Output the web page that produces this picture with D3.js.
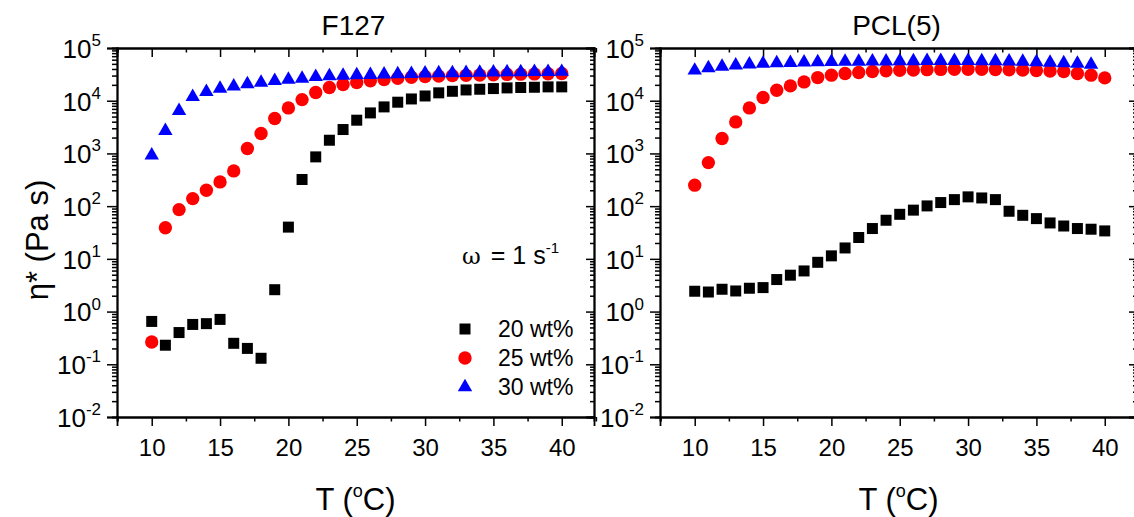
<!DOCTYPE html>
<html>
<head>
<meta charset="utf-8">
<script src="https://cdn.jsdelivr.net/npm/d3@7"></script>
<style>
  body { margin: 0; background: #fff; }
  svg text { font-family: "Liberation Sans", Arial, sans-serif; fill: #000; }
</style>
</head>
<body>
<div id="chart"></div>
<script>
// temperatures (°C)
const temps = d3.range(10, 41)
const tempsPcl30 = d3.range(10, 40)

// F127 complex viscosity (Pa s)
const f127_20 = [0.65, 0.23, 0.40, 0.57, 0.59, 0.71, 0.25, 0.20, 0.13, 2.6, 40, 320, 860, 1780, 2840, 4270, 5870, 7630, 9370, 10800, 12300, 14100, 15100, 16000, 16500, 17000, 17500, 17800, 18000, 18300, 18300]
const f127_25 = [0.265, 39, 86, 139, 200, 288, 466, 1240, 2390, 4600, 7300, 10500, 14300, 17800, 20300, 22100, 23800, 25200, 26700, 27900, 28700, 29300, 29900, 30300, 30700, 31100, 31500, 31900, 32200, 32500, 32800]
const f127_30 = [920, 2670, 6400, 11800, 14700, 17000, 18800, 20600, 22100, 23800, 25200, 26400, 28300, 29200, 30100, 30500, 31000, 31600, 32000, 32400, 33000, 33300, 33600, 33900, 34200, 34500, 34800, 35000, 35200, 35400, 35500]

// PCL(5) complex viscosity (Pa s)
const pcl_20 = [2.43, 2.35, 2.65, 2.46, 2.77, 2.85, 4.05, 4.9, 5.9, 8.6, 11.4, 16.1, 25.4, 37.6, 54, 70, 84, 101, 117, 133, 150, 143, 133, 80, 67, 58, 48, 42, 37.6, 36.5, 33.9]
const pcl_25 = [250, 670, 1920, 3960, 7300, 11500, 15800, 19100, 22700, 27500, 30500, 32800, 34300, 35800, 37000, 37800, 38300, 38800, 39200, 39500, 39600, 39400, 39000, 38500, 38000, 37300, 36500, 35800, 32800, 30500, 27100]
const pcl_30 = [37500, 41500, 44500, 47000, 49000, 50500, 51500, 52500, 53500, 54000, 54500, 55000, 55500, 56000, 56000, 56500, 56500, 57000, 57000, 57000, 57000, 56500, 56500, 56000, 55000, 54000, 53000, 52000, 50500, 48500]

const xTicks = [10, 15, 20, 25, 30, 35, 40]
const xMinorTicks = [7.5, 12.5, 17.5, 22.5, 27.5, 32.5, 37.5, 42.5]
const yExponents = [-2, -1, 0, 1, 2, 3, 4, 5]

const seriesNames = ["20 wt%", "25 wt%", "30 wt%"]
const seriesColors = ["#000000", "#ff0000", "#0000ff"]
const seriesShapes = [d3.symbolSquare, d3.symbolCircle, d3.symbolTriangle]
const seriesSizes = [121, 140, 90]

const panels = [
    { title: "F127", left: 117, data: [[temps, f127_20], [temps, f127_25], [temps, f127_30]] },
    { title: "PCL(5)", left: 660, data: [[temps, pcl_20], [temps, pcl_25], [tempsPcl30, pcl_30]] }
]

let width = 477
let plotTop = 48
let plotBottom = 417

const svg = d3.select("#chart")
    .append("svg")
    .attr("width", 1134)
    .attr("height", 517)

const y = d3.scaleLog()
    .domain([1e-2, 1e5])
    .range([plotBottom, plotTop])

// minor ticks 2..9 per decade
const yMinor = []
yExponents.slice(0, -1).forEach(e => {
    for (let k = 2; k <= 9; k++) yMinor.push(k * Math.pow(10, e))
})
const yMajor = yExponents.map(e => Math.pow(10, e))

const styleAxis = (g) => {
    g.select(".domain").attr("stroke", "#000").attr("stroke-width", 1.8)
    g.selectAll(".tick line").attr("stroke", "#000").attr("stroke-width", 1.5)
}

const addPowerLabels = (g, anchor) => {
    g.selectAll(".tick text").each(function (d) {
        const t = d3.select(this)
        t.text(null)
            .attr("font-size", 26)
            .attr("text-anchor", anchor)
            .attr("dy", "0.36em")
        t.append("tspan").text("10")
        t.append("tspan")
            .attr("font-size", 17)
            .attr("dy", "-0.7em")
            .text(Math.round(Math.log10(d)))
    })
}

panels.forEach((p) => {
    const x = d3.scaleLinear()
        .domain([7.46, 42.36])
        .range([p.left, p.left + width])

    const g = svg.append("g")

    // Bottom axis (outward ticks)
    g.append("g")
        .attr("transform", "translate(0," + plotBottom + ")")
        .call(d3.axisBottom(x).tickValues(xMinorTicks).tickSize(4.5).tickFormat(""))
        .call(styleAxis)
    g.append("g")
        .attr("transform", "translate(0," + plotBottom + ")")
        .call(d3.axisBottom(x).tickValues(xTicks).tickSize(9).tickPadding(13))
        .call(styleAxis)
        .selectAll(".tick text")
        .attr("font-size", 24)

    // Top axis (ticks pointing into the plot)
    g.append("g")
        .attr("transform", "translate(0," + plotTop + ")")
        .call(d3.axisTop(x).tickValues(xMinorTicks).tickSize(-4.5).tickFormat(""))
        .call(styleAxis)
    g.append("g")
        .attr("transform", "translate(0," + plotTop + ")")
        .call(d3.axisTop(x).tickValues(xTicks).tickSize(-9).tickFormat(""))
        .call(styleAxis)

    // Left axis (outward ticks)
    g.append("g")
        .attr("transform", "translate(" + p.left + ",0)")
        .call(d3.axisLeft(y).tickValues(yMinor).tickSize(5).tickFormat(""))
        .call(styleAxis)
    g.append("g")
        .attr("transform", "translate(" + p.left + ",0)")
        .call(d3.axisLeft(y).tickValues(yMajor).tickSize(10).tickPadding(6))
        .call(styleAxis)
        .call(a => addPowerLabels(a, "end"))

    // Right axis (inward ticks)
    g.append("g")
        .attr("transform", "translate(" + (p.left + width) + ",0)")
        .call(d3.axisRight(y).tickValues(yMinor).tickSize(-4).tickFormat(""))
        .call(styleAxis)
    g.append("g")
        .attr("transform", "translate(" + (p.left + width) + ",0)")
        .call(d3.axisRight(y).tickValues(yMajor).tickSize(-8).tickFormat(""))
        .call(styleAxis)

    // Add points
    p.data.forEach((s, i) => {
        g.append("g")
            .selectAll("path")
            .data(s[0].map((t, j) => ({ t: t, v: s[1][j] })))
            .enter()
            .append("path")
            .attr("d", d3.symbol().type(seriesShapes[i]).size(seriesSizes[i]))
            .attr("transform", d => "translate(" + x(d.t) + "," + y(d.v) + ")")
            .attr("fill", seriesColors[i])
    })

    // panel title
    g.append("text")
        .attr("x", p.left + width / 2 - 2)
        .attr("y", 35)
        .attr("text-anchor", "middle")
        .attr("font-size", 28)
        .text(p.title)

    // x axis title
    const xt = g.append("text")
        .attr("x", p.left + width / 2)
        .attr("y", 510)
        .attr("text-anchor", "middle")
        .attr("font-size", 31)
    xt.append("tspan").text("T (")
    xt.append("tspan").attr("font-size", 18).attr("dy", -13).text("o")
    xt.append("tspan").attr("dy", 13).text("C)")
})

// y axis title
const yt = svg.append("text")
    .attr("transform", "translate(48,240) rotate(-90)")
    .attr("text-anchor", "middle")
    .attr("font-size", 31)
yt.append("tspan").text("η* (Pa s)")

// omega annotation
const om = svg.append("text")
    .attr("x", 462)
    .attr("y", 264)
    .attr("font-size", 25)
om.append("tspan").attr("font-family", "DejaVu Serif").attr("font-size", 23).text("ω")
om.append("tspan").attr("dx", 10).text("= 1 s")
om.append("tspan").attr("font-size", 15).attr("dy", -11).text("-1")

// legend
const legend = svg.append("g")
seriesNames.forEach((name, i) => {
    const ly = 329 + i * 29
    legend.append("path")
        .attr("d", d3.symbol().type(seriesShapes[i]).size(seriesSizes[i]))
        .attr("transform", "translate(465," + ly + ")")
        .attr("fill", seriesColors[i])
    legend.append("text")
        .attr("x", 498)
        .attr("y", ly + 8)
        .attr("font-size", 23)
        .text(name)
})
</script>
</body>
</html>
